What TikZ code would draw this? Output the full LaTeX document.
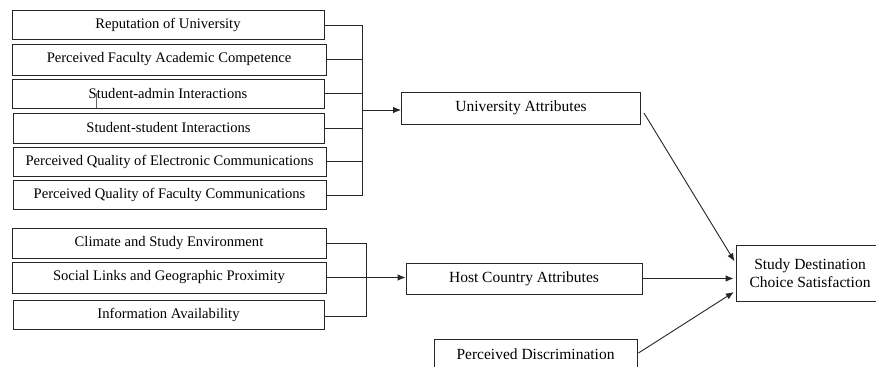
\documentclass[tikz,border=0pt]{standalone}
\usepackage{fontspec}
\setmainfont{Liberation Serif}
\usetikzlibrary{arrows.meta}
\begin{document}
\begin{tikzpicture}[x=1pt,y=-1pt,
  box/.style={draw=black!85, line width=0.9pt, inner sep=0pt, align=center, text=black},
  lbox/.style={box, font=\fontsize{14.6}{16}\selectfont},
  rbox/.style={box, font=\fontsize{15.5}{18}\selectfont},
  conn/.style={draw=black!85, line width=0.9pt},
  arr/.style={conn, -{Latex[length=8pt,width=6.5pt]}}
]
\useasboundingbox (0,0) rectangle (876,367);
\clip (0,0) rectangle (876,367);
\fill[white] (0,0) rectangle (876,367);
% left upper group
\node[lbox, minimum width=312pt, minimum height=29pt] (b1) at (168,24.5) {Reputation of University};
\node[lbox, minimum width=314pt, minimum height=31pt] (b2) at (169,59.5) {Perceived Faculty Academic Competence};
\node[lbox, minimum width=312pt, minimum height=29pt] (b3) at (168,93.5) {Student-admin Interactions};
\node[lbox, minimum width=311pt, minimum height=30pt] (b4) at (168.5,128) {Student-student Interactions};
\node[lbox, minimum width=313pt, minimum height=29pt] (b5) at (169.5,161.5) {Perceived Quality of Electronic Communications};
\node[lbox, minimum width=313pt, minimum height=29pt] (b6) at (169.5,194.5) {Perceived Quality of Faculty Communications};
% left lower group
\node[lbox, minimum width=314pt, minimum height=30pt] (c1) at (169,243) {Climate and Study Environment};
\node[lbox, minimum width=314pt, minimum height=31pt] (c2) at (169,277.5) {Social Links and Geographic Proximity};
\node[lbox, minimum width=311pt, minimum height=29pt] (c3) at (168.5,314.5) {Information Availability};
% middle
\node[rbox, minimum width=239pt, minimum height=32pt] (ua) at (521,108) {University Attributes};
\node[rbox, minimum width=236pt, minimum height=31pt] (hc) at (524,278.5) {Host Country Attributes};
\node[rbox, minimum width=203pt, minimum height=30pt] (pd) at (535.5,354) {Perceived Discrimination};
% right
\node[rbox, minimum width=148pt, minimum height=56pt] (sd) at (810,273) {Study Destination\\Choice Satisfaction};
% stray mark
\draw[black!60, line width=0.5pt] (96,93) -- (96,108);
% junctions
\coordinate (j1) at (362,25);
\coordinate (j1b) at (362,195);
\coordinate (j1m) at (362,110);
\coordinate (j2) at (366,243);
\coordinate (j2b) at (366,316);
\draw[conn] (b1.east |- j1) -- (j1) -- (j1b) -- (b6.east |- j1b);
\draw[conn] (b2.east) -- (b2.east -| j1);
\draw[conn] (b3.east) -- (b3.east -| j1);
\draw[conn] (b4.east) -- (b4.east -| j1);
\draw[conn] (b5.east) -- (b5.east -| j1);
\draw[arr] (j1m) -- (ua.west |- j1m);
\draw[conn] (c1.east) -- (j2) -- (j2b) -- (c3.east |- j2b);
\draw[arr] (c2.east) -- (hc.west |- c2.east);
% to outcome
\draw[arr, shorten >=2pt] ([xshift=3pt,yshift=-5pt]ua.east) -- ([yshift=10pt]sd.west);
\draw[arr, shorten >=2pt] (hc.east) -- (sd.west |- hc.east);
\draw[arr, shorten >=2pt] ([xshift=1pt,yshift=1pt]pd.east) -- ([yshift=-18pt]sd.west);
\end{tikzpicture}
\end{document}
